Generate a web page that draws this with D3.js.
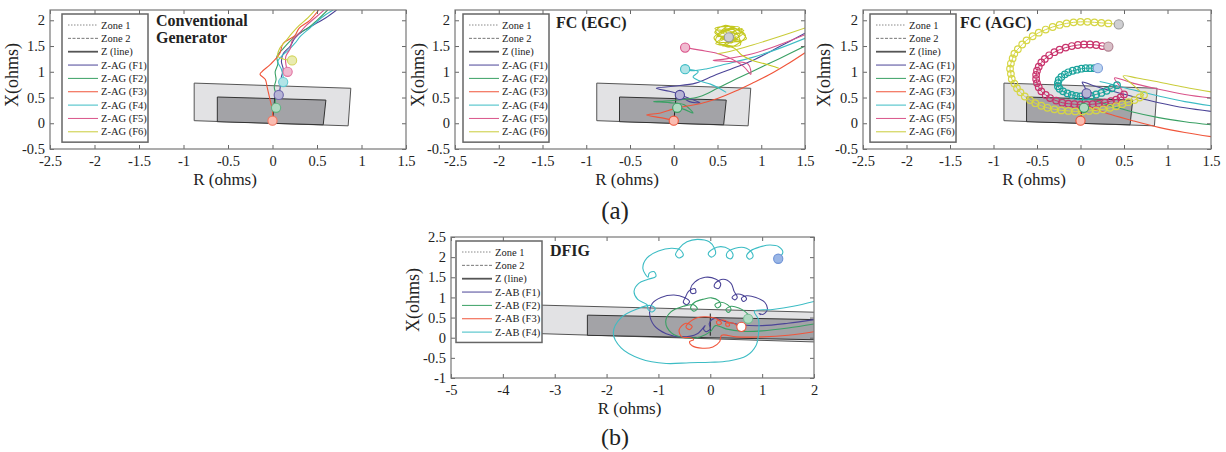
<!DOCTYPE html>
<html lang="en">
<head>
<meta charset="utf-8">
<title>impedance trajectories</title>
<script src="https://cdn.jsdelivr.net/npm/d3@7"></script>
<style>
body { margin: 0; background: #fff; }
svg text { font-family: "Liberation Serif", "DejaVu Serif", serif; fill: #222; }
</style>
</head>
<body>
<script>
var w = 1226, h = 452;

// tick labels
var xTicksA = [-2.5, -2, -1.5, -1, -0.5, 0, 0.5, 1, 1.5];
var yTicksA = [-0.5, 0, 0.5, 1, 1.5, 2];
var xTicksB = [-5, -4, -3, -2, -1, 0, 1, 2];
var yTicksB = [-1, -0.5, 0, 0.5, 1, 1.5, 2, 2.5];

var legendA = ["Zone 1", "Zone 2", "Z (line)", "Z-AG (F1)", "Z-AG (F2)", "Z-AG (F3)", "Z-AG (F4)", "Z-AG (F5)", "Z-AG (F6)"];
var legendB = ["Zone 1", "Zone 2", "Z (line)", "Z-AB (F1)", "Z-AB (F2)", "Z-AB (F3)", "Z-AB (F4)"];

var colors = ["#4b4497", "#3aa064", "#f0553a", "#3cbcc4", "#d9538a", "#c9cc3a"];

// relay zones (R, X)
var zone2A = [[-0.88, 0.78], [0.88, 0.68], [0.85, -0.05], [-0.88, 0.05]];
var zone1A = [[-0.62, 0.51], [0.6, 0.45], [0.57, -0.03], [-0.62, 0.03]];
var zLineA = [[0, 0.02], [0.03, 0.58]];
var zone2B = [[-4.8, 0.86], [2.4, 0.62], [2.4, -0.12], [-4.8, 0.16]];
var zone1B = [[-2.37, 0.56], [2.4, 0.44], [2.4, -0.06], [-2.37, 0.06]];
var zLineB = [[0, 0.05], [0, 0.6]];

// conventional generator
var cgF1 = [[0.72, 2.2], [0.6, 2.05], [0.45, 1.9], [0.35, 1.8], [0.25, 1.65], [0.2, 1.5], [0.12, 1.35], [0.1, 1.2], [0.12, 1.05], [0.1, 0.9], [0.09, 0.75], [0.08, 0.62], [0.07, 0.55]];
var cgF2 = [[0.62, 2.2], [0.5, 2.0], [0.4, 1.85], [0.3, 1.75], [0.2, 1.6], [0.12, 1.45], [0.05, 1.3], [0.06, 1.15], [0.03, 1.0], [0.04, 0.85], [0.02, 0.7], [0.04, 0.55], [0.03, 0.42], [0.04, 0.3]];
var cgF3 = [[0.52, 2.2], [0.42, 2.0], [0.3, 1.85], [0.25, 1.7], [0.12, 1.55], [0.08, 1.35], [-0.02, 1.15], [-0.12, 1.0], [-0.14, 0.95], [-0.08, 0.85], [-0.06, 0.7], [-0.04, 0.55], [-0.02, 0.4], [0.0, 0.25], [0.0, 0.05]];
var cgF4 = [[0.68, 2.2], [0.55, 2.05], [0.42, 1.85], [0.32, 1.7], [0.25, 1.55], [0.18, 1.42], [0.1, 1.3], [0.06, 1.2], [0.1, 1.05], [0.12, 0.9], [0.12, 0.8]];
var cgF5 = [[0.58, 2.2], [0.48, 2.05], [0.38, 1.9], [0.3, 1.75], [0.22, 1.6], [0.2, 1.45], [0.15, 1.3], [0.15, 1.15], [0.17, 1.0]];
var cgF6 = [[0.48, 2.2], [0.4, 2.05], [0.3, 1.9], [0.22, 1.75], [0.15, 1.6], [0.08, 1.45], [0.06, 1.3], [0.12, 1.25], [0.22, 1.22]];
var cgMarks = [[0.07, 0.55], [0.04, 0.3], [0.0, 0.05], [0.12, 0.8], [0.17, 1.0], [0.22, 1.22]];

// FC (EGC)
var egcF1 = [[1.5, 1.75], [1.2, 1.48], [0.9, 1.22], [0.65, 1.05], [0.45, 0.92], [0.25, 0.78], [0.0, 0.72], [-0.2, 0.68], [-0.05, 0.62], [0.05, 0.57], [0.2, 0.47], [0.3, 0.4], [0.18, 0.42], [0.07, 0.55]];
var egcF2 = [[1.5, 1.5], [1.2, 1.25], [0.95, 1.05], [0.7, 0.85], [0.5, 0.68], [0.3, 0.52], [0.1, 0.46], [-0.1, 0.43], [-0.23, 0.42], [-0.05, 0.4], [0.12, 0.36], [0.22, 0.2], [0.12, 0.27], [0.04, 0.3]];
var egcF3 = [[1.5, 1.37], [1.3, 1.15], [1.1, 0.95], [0.9, 0.78], [0.7, 0.62], [0.5, 0.48], [0.3, 0.38], [0.17, 0.34], [0.0, 0.28], [-0.15, 0.2], [-0.31, 0.16], [-0.12, 0.1], [0.0, 0.05]];
var egcF4 = [[1.5, 1.65], [1.2, 1.45], [0.9, 1.28], [0.6, 1.15], [0.38, 1.06], [0.2, 1.02], [0.13, 1.05], [0.28, 1.0], [0.22, 0.9], [0.3, 0.82], [0.42, 0.76], [0.52, 0.68], [0.6, 0.6]];
var egcF5 = [[1.5, 1.72], [1.2, 1.52], [0.9, 1.35], [0.6, 1.25], [0.45, 1.22], [0.65, 1.2], [0.85, 1.15], [0.88, 0.95], [0.8, 1.1], [0.62, 1.28], [0.47, 1.37], [0.3, 1.42], [0.13, 1.47]];
var egcF6a = [[1.5, 1.85], [1.2, 1.68], [0.9, 1.52], [0.65, 1.4], [0.5, 1.35]];
var egcF6b = [[1.2, 1.07], [1.05, 1.15], [0.9, 1.22], [0.78, 1.32], [0.7, 1.45], [0.62, 1.5], [0.48, 1.55], [0.75, 1.86], [0.47, 1.84], [0.78, 1.58], [0.5, 1.72], [0.7, 1.88], [0.46, 1.66], [0.64, 1.48], [0.82, 1.7], [0.58, 1.9], [0.47, 1.76], [0.74, 1.62], [0.56, 1.82], [0.8, 1.8], [0.52, 1.58], [0.83, 1.64], [0.62, 1.88], [0.48, 1.6], [0.76, 1.52], [0.68, 1.82], [0.5, 1.68], [0.8, 1.76], [0.56, 1.5], [0.7, 1.74], [0.48, 1.8], [0.66, 1.56], [0.78, 1.84], [0.53, 1.64], [0.72, 1.68], [0.63, 1.67]];
var egcMarks = [[0.07, 0.55], [0.04, 0.3], [0.0, 0.05], [0.13, 1.05], [0.13, 1.47], [0.63, 1.67]];

// FC (AGC)
var agcF1 = [[1.5, 0.23], [1.2, 0.3], [0.9, 0.4], [0.6, 0.52], [0.35, 0.63], [0.15, 0.73], [0.02, 0.8], [0.05, 0.7], [0.07, 0.58]];
var agcF2 = [[1.5, -0.03], [1.2, 0.03], [0.9, 0.11], [0.6, 0.22], [0.35, 0.34], [0.15, 0.45], [0.03, 0.52], [0.04, 0.3]];
var agcF3 = [[1.5, -0.26], [1.2, -0.18], [0.9, -0.08], [0.6, 0.05], [0.35, 0.17], [0.15, 0.28], [-0.03, 0.36], [0.0, 0.2], [0.0, 0.05]];
var agcF4 = [[1.5, 0.34], [1.2, 0.42], [0.9, 0.53], [0.6, 0.65], [0.4, 0.74], [0.22, 0.81]];
var agcF5 = [[1.5, 0.49], [1.2, 0.56], [0.9, 0.66], [0.6, 0.78], [0.39, 0.88], [0.45, 0.72], [0.5, 0.56]];
var agcF6 = [[1.5, 0.61], [1.2, 0.7], [0.9, 0.8], [0.65, 0.88], [0.49, 0.92], [0.6, 0.75], [0.73, 0.55]];
var agcF4Spiral = [[0.42, 0.74], [0.36, 0.68], [0.3, 0.63], [0.24, 0.59], [0.18, 0.56], [0.12, 0.53], [0.06, 0.52], [0.0, 0.52], [-0.05, 0.53], [-0.1, 0.55], [-0.15, 0.58], [-0.2, 0.62], [-0.24, 0.67], [-0.26, 0.72], [-0.26, 0.78], [-0.25, 0.84], [-0.22, 0.9], [-0.18, 0.95], [-0.14, 0.99], [-0.09, 1.02], [-0.04, 1.04], [0.01, 1.06], [0.06, 1.07], [0.11, 1.07], [0.16, 1.07], [0.2, 1.07]];
var agcF5Spiral = [[0.5, 0.56], [0.46, 0.5], [0.41, 0.46], [0.35, 0.43], [0.28, 0.4], [0.21, 0.38], [0.14, 0.37], [0.07, 0.36], [0.0, 0.36], [-0.07, 0.37], [-0.14, 0.38], [-0.21, 0.4], [-0.28, 0.44], [-0.35, 0.49], [-0.4, 0.55], [-0.45, 0.62], [-0.48, 0.7], [-0.5, 0.78], [-0.51, 0.86], [-0.51, 0.94], [-0.5, 1.02], [-0.48, 1.1], [-0.45, 1.18], [-0.41, 1.25], [-0.36, 1.32], [-0.3, 1.38], [-0.24, 1.43], [-0.17, 1.47], [-0.1, 1.5], [-0.03, 1.52], [0.04, 1.53], [0.11, 1.53], [0.18, 1.52], [0.25, 1.5], [0.32, 1.49]];
var agcF6Spiral = [[0.73, 0.55], [0.68, 0.5], [0.62, 0.45], [0.55, 0.41], [0.48, 0.37], [0.41, 0.33], [0.34, 0.3], [0.26, 0.27], [0.18, 0.25], [0.1, 0.24], [0.02, 0.23], [-0.06, 0.23], [-0.14, 0.24], [-0.22, 0.25], [-0.3, 0.27], [-0.38, 0.3], [-0.45, 0.34], [-0.52, 0.39], [-0.58, 0.45], [-0.64, 0.52], [-0.69, 0.6], [-0.73, 0.68], [-0.76, 0.77], [-0.79, 0.86], [-0.8, 0.96], [-0.81, 1.06], [-0.8, 1.16], [-0.78, 1.26], [-0.76, 1.35], [-0.72, 1.44], [-0.67, 1.53], [-0.62, 1.61], [-0.55, 1.69], [-0.48, 1.76], [-0.4, 1.82], [-0.32, 1.87], [-0.24, 1.91], [-0.16, 1.94], [-0.08, 1.96], [0.0, 1.97], [0.08, 1.97], [0.16, 1.96], [0.24, 1.95], [0.32, 1.94], [0.44, 1.92]];
var agcMarks = [[0.07, 0.58], [0.04, 0.3], [0.0, 0.05], [0.2, 1.07], [0.32, 1.49], [0.44, 1.92]];

// DFIG
var dfigF1 = [[2.0, 0.45], [1.5, 0.36], [1.0, 0.3], [0.6, 0.32], [0.3, 0.4], [0.08, 0.48], [-0.02, 0.35], [0.0, 0.22], [-0.08, 0.15], [-0.13, 0.22], [-0.1, 0.3], [-0.25, 0.1], [-0.55, 0.02], [-0.85, 0.1], [-1.08, 0.3], [-1.17, 0.6], [-1.12, 0.85], [-0.95, 1.0], [-0.7, 1.06], [-0.5, 1.0], [-0.4, 0.9], [-0.45, 0.82], [-0.52, 0.88], [-0.48, 1.0], [-0.42, 1.15], [-0.3, 1.22], [-0.28, 1.12], [-0.36, 1.1], [-0.38, 1.22], [-0.3, 1.38], [-0.1, 1.5], [0.1, 1.46], [0.2, 1.34], [0.16, 1.22], [0.08, 1.26], [0.1, 1.36], [0.25, 1.45], [0.4, 1.35], [0.46, 1.15], [0.52, 1.0], [0.47, 0.94], [0.42, 1.0], [0.5, 1.08], [0.62, 1.06], [0.7, 0.96], [0.64, 0.9], [0.6, 0.97], [0.7, 1.04], [0.88, 1.0], [1.05, 0.88], [1.1, 0.7], [1.02, 0.58], [0.94, 0.6], [0.98, 0.57]];
var dfigF2 = [[2.0, 0.34], [1.5, 0.24], [1.0, 0.17], [0.6, 0.16], [0.3, 0.22], [0.1, 0.3], [0.0, 0.15], [-0.2, 0.02], [-0.5, 0.0], [-0.75, 0.12], [-0.86, 0.4], [-0.76, 0.64], [-0.52, 0.78], [-0.32, 0.82], [-0.25, 0.72], [-0.32, 0.66], [-0.38, 0.74], [-0.3, 0.88], [-0.12, 0.96], [0.02, 0.99], [0.16, 0.92], [0.2, 0.8], [0.13, 0.74], [0.09, 0.82], [0.2, 0.88], [0.33, 0.82], [0.4, 0.7], [0.35, 0.63], [0.3, 0.7], [0.4, 0.78], [0.55, 0.74], [0.66, 0.66], [0.74, 0.55], [0.73, 0.47]];
var dfigF3 = [[2.0, 0.15], [1.5, 0.06], [1.0, 0.02], [0.5, 0.02], [0.22, 0.06], [0.18, -0.1], [0.05, -0.23], [-0.15, -0.26], [-0.35, -0.2], [-0.4, -0.1], [-0.32, -0.05], [-0.38, 0.0], [-0.55, 0.02], [-0.6, 0.2], [-0.47, 0.36], [-0.35, 0.28], [-0.4, 0.2], [-0.47, 0.27], [-0.32, 0.46], [-0.12, 0.52], [0.05, 0.5], [0.16, 0.44], [0.22, 0.36], [0.15, 0.32], [0.12, 0.4], [0.25, 0.44], [0.34, 0.38], [0.37, 0.3], [0.31, 0.29], [0.3, 0.36], [0.45, 0.36], [0.52, 0.3], [0.6, 0.27]];
var dfigF4 = [[2.0, 0.9], [1.6, 0.78], [1.2, 0.7], [0.85, 0.66], [0.93, 0.45], [0.93, 0.1], [0.88, -0.2], [0.7, -0.45], [0.35, -0.58], [0.0, -0.61], [-0.4, -0.62], [-0.85, -0.64], [-1.35, -0.52], [-1.72, -0.25], [-1.87, 0.12], [-1.72, 0.5], [-1.4, 0.72], [-1.15, 0.8], [-1.06, 0.72], [-1.12, 0.64], [-1.2, 0.7], [-1.22, 0.82], [-1.4, 0.95], [-1.47, 1.15], [-1.38, 1.35], [-1.2, 1.45], [-1.05, 1.52], [-1.08, 1.64], [-1.18, 1.6], [-1.2, 1.5], [-1.3, 1.72], [-1.22, 1.98], [-1.0, 2.15], [-0.75, 2.22], [-0.58, 2.18], [-0.52, 2.05], [-0.6, 1.98], [-0.67, 2.06], [-0.6, 2.22], [-0.45, 2.38], [-0.25, 2.44], [-0.02, 2.38], [0.08, 2.22], [0.1, 2.08], [0.02, 2.0], [-0.04, 2.08], [0.05, 2.2], [0.2, 2.26], [0.36, 2.2], [0.44, 2.06], [0.4, 1.96], [0.32, 2.0], [0.33, 2.12], [0.48, 2.22], [0.65, 2.24], [0.8, 2.12], [0.82, 2.0], [0.75, 1.95], [0.7, 2.03], [0.78, 2.16], [0.95, 2.25], [1.15, 2.3], [1.32, 2.26], [1.4, 2.12], [1.31, 1.96]];
var dfigMarks = [[0.98, 0.57], [0.73, 0.47], [0.6, 0.27], [1.31, 1.96]];

var svg = d3.select("body").append("svg")
	.attr("width", w)
	.attr("height", h);

var fmt = function(d) { return String(d); };
function tint(c, k) { return d3.interpolateRgb(c, "#fff")(k); }

// one subplot
function drawPanel(p) {
	var x = d3.scaleLinear().domain(p.xDom).range([p.left, p.right]);
	var y = d3.scaleLinear().domain(p.yDom).range([p.bottom, p.top]);
	var g = svg.append("g");

	svg.append("clipPath").attr("id", "clip" + p.id)
		.append("rect")
		.attr("x", p.left).attr("y", p.top)
		.attr("width", p.right - p.left).attr("height", p.bottom - p.top);

	var plot = g.append("g").attr("clip-path", "url(#clip" + p.id + ")");
	var poly = d3.line().x(function(d) { return x(d[0]); }).y(function(d) { return y(d[1]); }).curve(d3.curveLinearClosed);
	var straight = d3.line().x(function(d) { return x(d[0]); }).y(function(d) { return y(d[1]); });
	var smooth = d3.line().x(function(d) { return x(d[0]); }).y(function(d) { return y(d[1]); }).curve(d3.curveCatmullRom.alpha(0.5));

	// zones
	plot.append("path").attr("d", poly(p.zone2)).attr("fill", "#e2e2e4").attr("stroke", "#555").attr("stroke-width", 1);
	plot.append("path").attr("d", poly(p.zone1)).attr("fill", "#a3a3a7").attr("stroke", "#333").attr("stroke-width", 1);
	plot.append("path").attr("d", straight(p.zLine)).attr("stroke", "#222").attr("stroke-width", 1).attr("fill", "none");

	// trajectories
	p.series.forEach(function(s) {
		plot.append("path")
			.attr("d", smooth(s.pts))
			.attr("fill", "none")
			.attr("stroke", s.color)
			.attr("stroke-width", 1.1);
	});

	// marker spirals (FC AGC)
	(p.spirals || []).forEach(function(s) {
		plot.append("path").attr("d", smooth(s.pts)).attr("fill", "none").attr("stroke", s.color).attr("stroke-width", 1);
		plot.selectAll(null).data(s.pts.slice(0, -1)).enter()
			.append("circle")
			.attr("cx", function(d) { return x(d[0]); })
			.attr("cy", function(d) { return y(d[1]); })
			.attr("r", 3.3)
			.attr("fill", "none")
			.attr("stroke", s.color)
			.attr("stroke-width", 1.2);
	});

	// end markers
	plot.selectAll(null).data(p.marks).enter()
		.append("circle")
		.attr("cx", function(d) { return x(d[0]); })
		.attr("cy", function(d) { return y(d[1]); })
		.attr("r", 4.6)
		.attr("fill", function(d, i) { return p.markFill[i]; })
		.attr("stroke", function(d, i) { return p.markStroke[i]; })
		.attr("stroke-width", 1.1);

	// axes, ticks pointing inward
	var gx = g.append("g").attr("transform", "translate(0," + p.bottom + ")")
		.call(d3.axisBottom(x).tickValues(p.xTicks).tickSizeInner(-4).tickSizeOuter(0).tickPadding(7).tickFormat(fmt));
	var gt = g.append("g").attr("transform", "translate(0," + p.top + ")")
		.call(d3.axisTop(x).tickValues(p.xTicks).tickSizeInner(-4).tickSizeOuter(0).tickFormat(""));
	var gy = g.append("g").attr("transform", "translate(" + p.left + ",0)")
		.call(d3.axisLeft(y).tickValues(p.yTicks).tickSizeInner(-4).tickSizeOuter(0).tickPadding(5).tickFormat(fmt));
	var gr = g.append("g").attr("transform", "translate(" + p.right + ",0)")
		.call(d3.axisRight(y).tickValues(p.yTicks).tickSizeInner(-4).tickSizeOuter(0).tickFormat(""));
	[gx, gt, gy, gr].forEach(function(a) {
		a.select(".domain").remove();
		a.selectAll(".tick line").attr("stroke", "#666");
		a.selectAll("text").attr("font-size", 14.5).attr("fill", "#222");
	});

	g.append("rect")
		.attr("x", p.left).attr("y", p.top)
		.attr("width", p.right - p.left).attr("height", p.bottom - p.top)
		.attr("fill", "none").attr("stroke", "#777").attr("stroke-width", 1.2);

	// axis labels
	g.append("text")
		.attr("x", (p.left + p.right) / 2 - 3).attr("y", p.bottom + 36)
		.attr("text-anchor", "middle").attr("font-size", 17)
		.text("R (ohms)");
	g.append("text")
		.attr("transform", "translate(" + p.yLabelX + "," + p.yLabelY + ") rotate(-90)")
		.attr("text-anchor", "middle").attr("font-size", 18)
		.text("X(ohms)");

	// title
	p.title.forEach(function(t, i) {
		g.append("text")
			.attr("x", p.titleX).attr("y", p.titleY + i * 16.5)
			.attr("font-size", 16).attr("font-weight", "bold")
			.text(t);
	});

	// legend
	var lg = g.append("g");
	var rowH = 13.35;
	lg.append("rect")
		.attr("x", p.legX).attr("y", p.legY)
		.attr("width", 86).attr("height", p.legend.length * rowH + 8)
		.attr("fill", "#fff").attr("stroke", "#666").attr("stroke-width", 1.5);
	var legStroke = ["#888", "#777", "#555"].concat(colors);
	var legDash = ["1.5,1.5", "3,1.5", null];
	p.legend.forEach(function(t, i) {
		var yy = p.legY + 11 + i * rowH;
		lg.append("line")
			.attr("x1", p.legX + 6).attr("x2", p.legX + 36)
			.attr("y1", yy).attr("y2", yy)
			.attr("stroke", legStroke[i])
			.attr("stroke-width", i == 2 ? 1.8 : 1)
			.attr("stroke-dasharray", legDash[i] || null);
		lg.append("text")
			.attr("x", p.legX + 39).attr("y", yy + 3.5)
			.attr("font-size", 10.5)
			.text(t);
	});
}

function seriesOf(list) {
	return list.map(function(pts, i) { return { pts: pts, color: colors[i] }; });
}

var lightFill = colors.map(function(c) { return tint(c, 0.6); });

drawPanel({
	id: 1, left: 50, right: 406, top: 10, bottom: 149,
	xDom: [-2.5, 1.5], yDom: [-0.5, 2.2], xTicks: xTicksA, yTicks: yTicksA,
	zone1: zone1A, zone2: zone2A, zLine: zLineA,
	series: seriesOf([cgF1, cgF2, cgF3, cgF4, cgF5, cgF6]),
	marks: cgMarks, markFill: lightFill, markStroke: colors.map(function(c) { return tint(c, 0.2); }),
	title: ["Conventional", "Generator"], titleX: 156, titleY: 26,
	legend: legendA, legX: 62, legY: 14, yLabelX: 18, yLabelY: 75
});

var egcSeries = seriesOf([egcF1, egcF2, egcF3, egcF4, egcF5, egcF6a]);
egcSeries.push({ pts: egcF6b, color: "#c4c81e" });
drawPanel({
	id: 2, left: 455, right: 805, top: 10, bottom: 149,
	xDom: [-2.5, 1.5], yDom: [-0.5, 2.2], xTicks: xTicksA, yTicks: yTicksA,
	zone1: zone1A, zone2: zone2A, zLine: zLineA,
	series: egcSeries,
	marks: egcMarks, markFill: lightFill.slice(0, 5).concat(["#cfcfd2"]), markStroke: colors.slice(0, 5).concat(["#999"]),
	title: ["FC (EGC)"], titleX: 556, titleY: 28,
	legend: legendA, legX: 463, legY: 14, yLabelX: 424, yLabelY: 75
});

var agcSpiralColors = ["#1aa39c", "#c8336c", "#d6d645"];
drawPanel({
	id: 3, left: 863, right: 1211, top: 10, bottom: 149,
	xDom: [-2.5, 1.5], yDom: [-0.5, 2.2], xTicks: xTicksA, yTicks: yTicksA,
	zone1: zone1A, zone2: zone2A, zLine: zLineA,
	series: seriesOf([agcF1, agcF2, agcF3, agcF4, agcF5, agcF6]),
	spirals: [
		{ pts: agcF4Spiral, color: agcSpiralColors[0] },
		{ pts: agcF5Spiral, color: agcSpiralColors[1] },
		{ pts: agcF6Spiral, color: agcSpiralColors[2] }
	],
	marks: agcMarks, markFill: lightFill.slice(0, 3).concat(["#bcd4f0", "#d8c0c8", "#cfcfd2"]), markStroke: colors.slice(0, 3).concat(["#7a9ad8", "#b08090", "#999"]),
	title: ["FC (AGC)"], titleX: 960, titleY: 28,
	legend: legendA, legX: 870, legY: 14, yLabelX: 830, yLabelY: 75
});

drawPanel({
	id: 4, left: 451, right: 814, top: 237, bottom: 378,
	xDom: [-5, 2], yDom: [-1, 2.5], xTicks: xTicksB, yTicks: yTicksB,
	zone1: zone1B, zone2: zone2B, zLine: zLineB,
	series: seriesOf([dfigF1, dfigF2, dfigF3, dfigF4]),
	marks: dfigMarks, markFill: ["none", tint(colors[1], 0.6), "#fff", "#9ab6e6"], markStroke: ["none", tint(colors[1], 0.3), colors[2], "#6f93d6"],
	title: ["DFIG"], titleX: 550, titleY: 256,
	legend: legendB, legX: 456, legY: 241, yLabelX: 419, yLabelY: 300
});

// sub-figure captions
svg.append("text").attr("x", 615).attr("y", 219).attr("text-anchor", "middle").attr("font-size", 25).text("(a)");
svg.append("text").attr("x", 615).attr("y", 445).attr("text-anchor", "middle").attr("font-size", 24).text("(b)");
</script>
</body>
</html>
